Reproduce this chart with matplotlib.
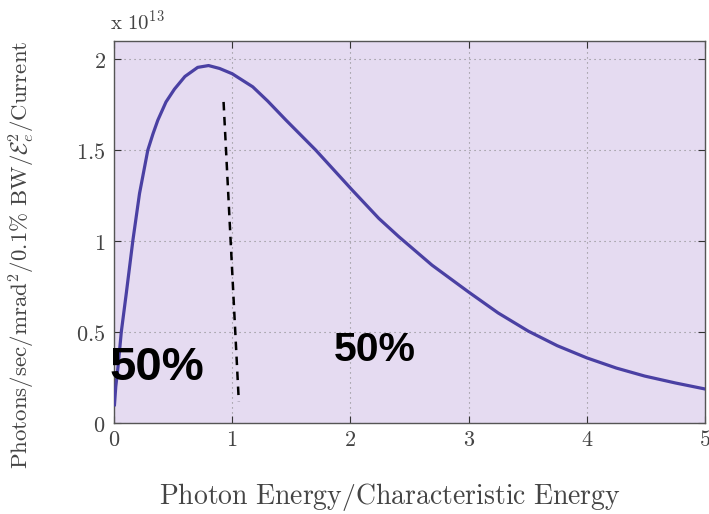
import matplotlib
matplotlib.use("Agg")
import matplotlib.pyplot as plt

plt.rcParams['mathtext.fontset'] = 'cm'
plt.rcParams['font.family'] = ['DejaVu Serif']

# Curve (y in units of 1e13)
energy_ratio = [0.004, 0.015, 0.034, 0.062, 0.104, 0.160, 0.216, 0.286, 0.33, 0.371,
                0.44, 0.511, 0.60, 0.708, 0.80, 0.893, 1.0, 1.174, 1.3, 1.455,
                1.707, 2.016, 2.24, 2.41, 2.69, 3.0, 3.25, 3.505, 3.75, 4.0,
                4.25, 4.49, 4.75, 5.0]
brightness = [0.10, 0.20, 0.309, 0.502, 0.713, 1.005, 1.262, 1.50, 1.59, 1.665,
              1.765, 1.835, 1.905, 1.955, 1.965, 1.949, 1.92, 1.848, 1.77, 1.665,
              1.50, 1.28, 1.125, 1.024, 0.868, 0.72, 0.605, 0.505, 0.425, 0.358,
              0.302, 0.258, 0.22, 0.187]

# Dashed divider line (50% / 50%)
divider_x = [0.927, 1.056]
divider_y = [1.765, 0.117]

xticks = [0, 1, 2, 3, 4, 5]
yticks = [0, 0.5, 1, 1.5, 2]
ytick_labels = ['0', '0.5', '1', '1.5', '2']

fig = plt.figure(figsize=(7.09, 5.14), dpi=100)
ax = fig.add_axes([114/709, 1-423/514, 591/709, (423-41)/514])
ax.set_facecolor('#e5dbf1')

ax.plot(energy_ratio, brightness, color='#4a40a3', lw=2.3, zorder=3,
        solid_joinstyle='round')
ax.plot(divider_x, divider_y, color='black', lw=1.8, ls=(0, (3.4, 2.6)), zorder=3)

ax.set_xlim(0, 5)
ax.set_ylim(0, 2.1)
ax.set_xticks(xticks)
ax.set_xticklabels([f'${t}$' for t in xticks])
ax.set_yticks(yticks)
ax.set_yticklabels([f'${t}$' for t in ytick_labels])
ax.grid(True, color='#8a8a8a', lw=0.8, ls=(0, (1, 3.5)))
ax.tick_params(direction='in', length=5, top=True, right=True,
               labelsize=16, colors='#333333', labelcolor='#444444')
ax.tick_params(axis='x', pad=4)
ax.tick_params(axis='y', pad=6)
for s in ax.spines.values():
    s.set_color('#555555')
    s.set_linewidth(1.0)

ax.set_xlabel(r'$\mathrm{Photon\ Energy/Characteristic\ Energy}$', fontsize=20,
              color='#444444')
ax.xaxis.set_label_coords(0.467, -0.194)
ax.xaxis.label.set_va('center')
ax.set_ylabel(r'$\mathrm{Photons/sec/mrad^2/0.1\%\ BW/}\mathcal{E}_e^2\mathrm{/Current}$',
              fontsize=16.5, color='#444444')
ax.yaxis.set_label_coords(-0.156, 0.44)
ax.yaxis.label.set_va('center')

ax.text(-0.007, 1.018, r'$\mathrm{x\ 10^{13}}$', transform=ax.transAxes,
        fontsize=15, color='#444444', ha='left', va='bottom')

ax.text(-0.042, 0.30, '50%', fontfamily='Liberation Sans', fontweight='bold',
        fontsize=34, color='black', ha='left', va='center', zorder=4)
ax.text(1.862, 0.40, '50%', fontfamily='Liberation Sans', fontweight='bold',
        fontsize=29.5, color='black', ha='left', va='center', zorder=4)

fig.savefig('out.png', dpi=100)
